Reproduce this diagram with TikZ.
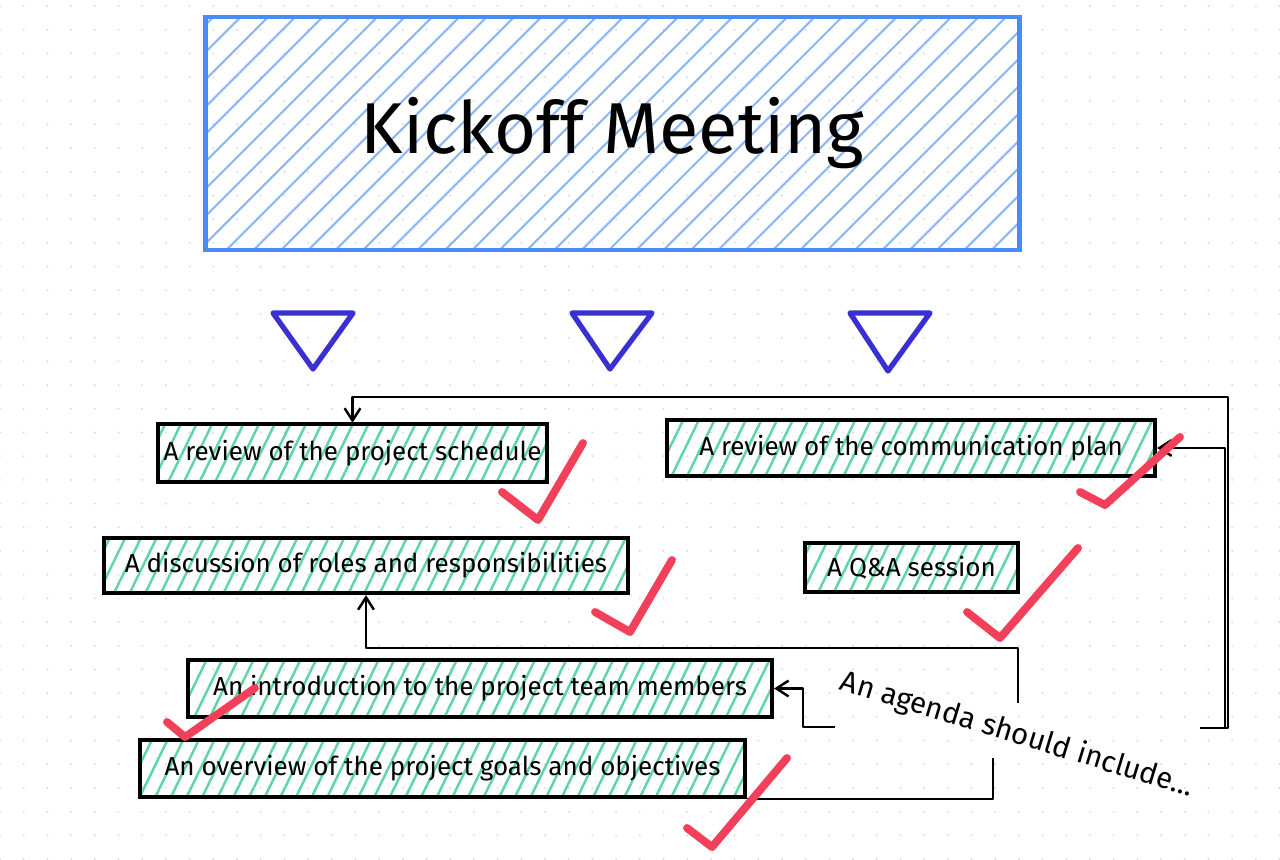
\documentclass[tikz,border=0pt]{standalone}
\usepackage{fontspec}
\setmainfont{Fira Sans}
\usepackage{xcolor}
\usepackage{tikz}
\usetikzlibrary{arrows.meta,patterns.meta,positioning,calc}

\definecolor{titleblue}{HTML}{4A8CF5}
\definecolor{hatchblue}{HTML}{8DB6F7}
\definecolor{hatchgreen}{HTML}{5ED6A4}
\definecolor{checkred}{HTML}{F2405A}
\definecolor{triviolet}{HTML}{3A2FD0}
\definecolor{griddot}{HTML}{D8D8D8}

\begin{document}
\begin{tikzpicture}[
    x=0.02cm, y=-0.02cm,
    title_box/.style={draw=titleblue, line width=2.8pt, minimum width=16.3cm, minimum height=4.66cm,
        pattern={Lines[angle=45,distance=11pt,line width=1.2pt]}, pattern color=hatchblue,
        font=\fontsize{41}{46}\selectfont},
    item/.style={draw=black, line width=2.4pt, inner sep=0pt,
        pattern={Lines[angle=64,distance=8pt,line width=1.4pt]}, pattern color=hatchgreen,
        font=\fontsize{14.8}{17}\selectfont},
    tri/.style={draw=triviolet, line width=3pt, line join=round},
    check/.style={draw=checkred, line width=4.5pt, line cap=round, line join=round},
    link/.style={draw=black, line width=1.4pt, line join=round},
    link_arrow/.style={link, -{Straight Barb[length=7pt,width=9pt]}},
    agenda/.style={font=\fontsize{16.8}{19}\selectfont}
]

    \useasboundingbox (0,0) rectangle (1280,859);
    \fill[pattern={Dots[distance=0.474cm,radius=0.6pt]}, pattern color=griddot] (0,0) rectangle (1280,859);

    \node[title_box] (title) at (612.5,133.5) {Kickoff Meeting};

    \draw[tri] (273,313) -- (353,313) -- (313,369) -- cycle;
    \draw[tri] (572,313) -- (652,313) -- (610,369) -- cycle;
    \draw[tri] (850,313) -- (930,313) -- (888,371) -- cycle;

    \node[item, minimum width=7.78cm, minimum height=1.16cm] (b1) at (352.5,453) {A review of the project schedule};
    \node[item, minimum width=9.76cm, minimum height=1.12cm] (b2) at (911,448) {A review of the communication plan};
    \node[item, minimum width=10.48cm, minimum height=1.10cm] (b3) at (366,565.5) {A discussion of roles and responsibilities};
    \node[item, minimum width=4.26cm, minimum height=0.98cm] (b4) at (911.5,567.5) {A Q\&A session};
    \node[item, minimum width=11.68cm, minimum height=1.14cm] (b5) at (480,688.5) {An introduction to the project team members};
    \node[item, minimum width=12.1cm, minimum height=1.14cm] (b6) at (442.5,768.5) {An overview of the project goals and objectives};

    \node[agenda, rotate=-17] (agenda) at (1017,735) {An agenda should include...};

    % connectors
    \coordinate (s1) at (1200,728);
    \coordinate (k1) at (1228,397);
    \coordinate (k2) at (1225,448);
    \coordinate (s3) at (1018,703);
    \coordinate (k3) at (1018,648);
    \coordinate (s4) at (835,727);
    \coordinate (k4) at (803,727);
    \coordinate (s5) at (993,758);

    \draw[link_arrow] (s1) -| (k1) -| (b1.north);
    \draw[link_arrow] (s1) -| (k2) -- (b2.east);
    \draw[link_arrow] (s3) -- (k3) -| (b3.south);
    \draw[link_arrow] (s4) -- (k4) |- (b5.east);
    \draw[link] (s5) |- (b6.south east);

    % ticks
    \draw[check] (502,492) -- (538,520) -- (583,443);
    \draw[check] (1080,492) -- (1105,505) -- (1180,437);
    \draw[check] (595,612) -- (630,632) -- (672,560);
    \draw[check] (967,612) -- (1000,638) -- (1078,548);
    \draw[check] (167,722) -- (185,737) -- (255,688);
    \draw[check] (687,828) -- (712,847) -- (787,758);
\end{tikzpicture}
\end{document}
